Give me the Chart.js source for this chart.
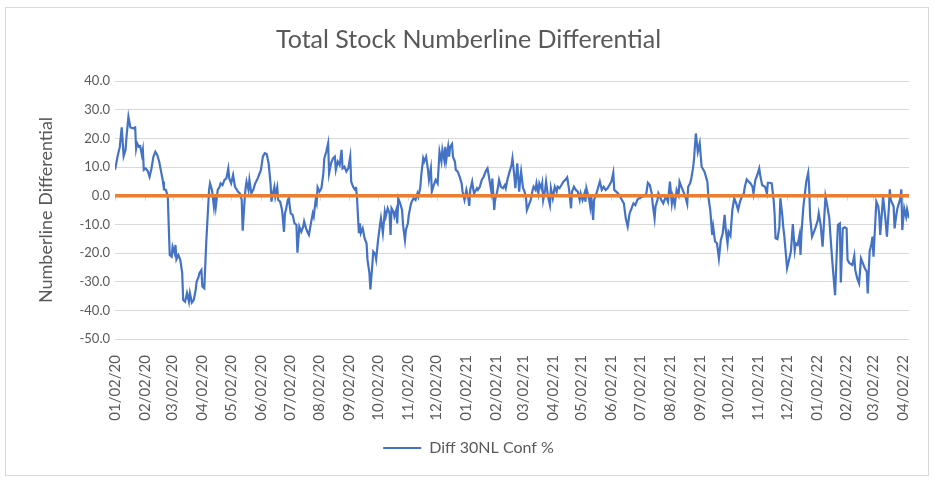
<!DOCTYPE html>
<html>
<head>
<meta charset="utf-8">
<script src="https://cdn.jsdelivr.net/npm/chart.js@4.4.1/dist/chart.umd.min.js"></script>
<style>
  html, body { margin: 0; padding: 0; background: #fff; }
  #wrap { position: relative; width: 938px; height: 482px; }
  #frame { position: absolute; left: 5px; top: 7px; width: 924px; height: 469px; border: 1px solid #d9d9d9; box-sizing: border-box; }
  #chart { position: absolute; left: 0; top: 0; }
</style>
</head>
<body>
<div id="wrap">
  <div id="frame"></div>
  <canvas id="chart" width="938" height="482"></canvas>
</div>
<script>
const chartTitle = "Total Stock Numberline Differential";
const yAxisTitle = "Numberline Differential";
const seriesName = "Diff 30NL Conf %";

// first date of the series (MM/DD/YY); days below count from it
const startLabel = "01/02/20";

const tickLabels = [
  "01/02/20", "02/02/20", "03/02/20", "04/02/20", "05/02/20", "06/02/20", "07/02/20",
  "08/02/20", "09/02/20", "10/02/20", "11/02/20", "12/02/20", "01/02/21", "02/02/21",
  "03/02/21", "04/02/21", "05/02/21", "06/02/21", "07/02/21", "08/02/21", "09/02/21",
  "10/02/21", "11/02/21", "12/02/21", "01/02/22", "02/02/22", "03/02/22", "04/02/22",
];

const days = [
  0, 3, 5, 7, 9, 11, 12, 14, 16, 19, 21, 22, 23, 25, 26, 28, 29, 30, 32, 34,
  36, 38, 40, 42, 44, 46, 48, 50, 51, 53, 55, 56, 57, 59, 60, 62, 63, 64, 66, 68,
  70, 71, 73, 75, 77, 78, 80, 82, 84, 85, 87, 88, 90, 91, 93, 95, 96, 98, 99, 101,
  103, 104, 105, 107, 109, 110, 112, 114, 116, 118, 119, 121, 123, 125, 128, 130, 132, 133, 135, 136,
  137, 139, 140, 142, 144, 146, 148, 150, 152, 154, 156, 158, 160, 162, 163, 164, 166, 167, 169, 170,
  172, 174, 176, 177, 178, 180, 181, 183, 185, 187, 189, 190, 192, 194, 196, 197, 199, 201,
  202, 204, 206, 207, 209, 210, 211, 213, 215, 217, 218, 220, 222, 223, 225, 227, 229, 230, 232, 234,
  236, 237, 239, 241, 243, 245, 246, 248, 250, 251, 252, 254, 255, 256, 258, 260, 262, 263, 265, 266,
  268, 269, 271, 272, 274, 276, 277, 279, 281, 282, 284, 286, 287, 288, 290, 291, 293, 294, 295, 297,
  299, 300, 302, 303, 305, 306, 308, 309, 311, 313, 315, 316, 318, 319, 321, 322, 324, 326, 327, 329,
  330, 332, 334, 336, 337, 338, 340, 341, 343, 344, 345, 347, 348, 349, 351, 352, 354, 355, 357, 359,
  361, 362, 364, 366, 368, 369, 370, 372, 373, 374, 377, 378, 380, 382, 384, 386, 388, 390, 392, 393,
  395, 396, 397, 399,
  400, 402, 404, 406, 407, 409, 411, 413, 414, 416, 417, 419, 421, 422, 423, 425, 426, 428, 429, 431,
  433, 435, 436, 438, 439, 441, 442, 444, 445, 446, 448, 449, 451, 453, 454, 456, 458, 460, 461, 463,
  465, 467, 469, 471, 473, 475, 476, 478, 480, 482, 484, 485, 487, 489, 490, 491, 494, 495, 496, 498,
  499, 501, 503, 505, 507, 509, 511, 513, 515, 517, 519, 520, 522, 524, 526, 528, 530, 532, 534, 536,
  538, 540, 542, 544, 546, 548, 550, 553, 555, 557, 559, 560, 562, 563, 565, 566, 569, 571, 573, 574,
  576, 578, 580, 581, 583, 585, 587, 588, 590, 592, 594, 596, 597, 599,
  600, 602, 603, 605, 607, 609, 611, 614, 617, 618, 620, 622, 623, 625, 627, 629, 631, 633, 635, 636,
  638, 639, 641, 643, 645, 647, 649, 651, 653, 655, 656, 658, 660, 662, 664, 665, 667, 669, 671, 672,
  674, 677, 679, 680, 682, 684, 686, 687, 688, 690, 692, 693, 695, 696, 697, 699, 700, 702, 704, 706,
  708, 709, 711, 713, 714, 715, 717, 719, 720, 722, 723, 724, 726, 728, 730, 732, 733, 735, 737, 738,
  740, 742, 744, 745, 747, 749, 750, 752, 753, 755, 756, 758, 760, 762, 763, 765, 768, 770, 771, 773,
  775, 777, 779, 781, 783, 784, 786, 788, 789, 790, 792, 793, 795, 796, 797, 799, 800, 802, 803, 804,
  806, 807, 808, 811, 812, 814, 815, 818, 819, 820, 822, 824, 825, 827,
];

const diffValues = [
  9, 14.2, 17, 23.8, 13.8, 16, 20.6, 27.5, 23.8, 23.5, 23.8, 16.5, 18.3, 17, 17.7, 14.2, 16, 9, 9.5, 8.7,
  6.6, 9.5, 13.6, 15.3, 14.2, 11.9, 8.4, 4.9, 2.2, 2, -0.3, -10.8, -20.7, -21.3, -17.8, -20, -17.2, -22.2, -20.7, -22.4,
  -27, -36.4, -37, -34, -37, -34, -37.3, -36.4, -33, -30, -28.3, -27, -26, -31.7, -32.3, -16.6, -10.2, 2, 4.3, 2,
  -3.8, -0.3, -3.8, 2, 3.1, 4.3, 3.7, 5.5, 6, 9.5, 6, 4.3, 7.2, 3.1, 1.4, 0.8, -1.5, -12.2, -1.5, 2.6,
  4.9, 2, 5.5, 0.8, 2, 4.3, 5.5, 7.2, 9, 13.6, 14.8, 14.5, 11.3, 4.3, -2.1, 0.2, 3.1, -0.3, 2.9, -1.5,
  -2.1, -5, -12.6, -6.2, -5, -1.5, -0.9, -6.2, -6.7, -9.7, -10.2, -19.9, -10.8, -12.6, -10.8, -9, -11.4, -13.1,
  -13.7, -9.7, -6.2, -7.3, -1.5, -2.7, 2.9, 1.4, 2.6, 7.8, 13, 15.3, 18.3, 7.8, 11.3, 13, 13.6, 9, 11.9, 10.7,
  16, 9.5, 10.1, 8.4, 9.5, 13.6, 4.9, 3.1, 2, 3.1, -0.3, -13.1, -9.7, -13.1, -11.4, -14.9, -16.6, -22.4, -27, -32.7,
  -24.2, -19.5, -20.3, -22.2, -15.5, -10.2, -7.9, -13.1, -5.6, -7.3, -4.4, -6.2, -13.7, -4.4, -5.6, -7.3, -5, -9.7, -0.9, -2.7,
  -5, -10.2, -15.5, -12, -9.7, -6.7, -3.3, -2.1, -0.9, -1.5, 0.8, -0.3, 2.9, 7.2, 13, 11.9, 13.6, 9, 5.5, 9.5,
  1.4, 3.7, 5.5, 4.3, 9.5, 15.3, 11.9, 16, 12.4, 17, 12.4, 17, 13.6, 17, 18, 13.6, 11.9, 9, 8.4, 6.6,
  4.3, 1.4, -1.5, 2, -0.9, -3.6, 2, 4.9, 2.6, 0.8, 2.6, 2, 3.1, 5.5, 6.6, 8.4, 9.5, 5.5, 1.4, 6,
  -5, -0.9, -0.3, 3.1,
  5.5, 3.1, 2.6, 3.7, 2.6, 6, 8.4, 10.7, 13, 6.6, 2.6, 11.3, 1.4, 5.5, 8.4, 2.6, 2, -0.3, -5, -3.3,
  -1.5, 2, 3.1, 2, 4.3, 0.8, 4.3, 2.6, 4.3, -1.5, 2, 4.9, -0.3, -3.3, 2.6, -0.9, 3.1, 1.4, 3.1, 2.6,
  3.7, 4.9, 5.5, 6.4, 2, -4.4, 1.4, 3.1, 2, 1.4, -1.5, 0.8, -1.5, 0.8, -2.1, 2.6, -1.5, -3.8, 0.2, -8.5,
  -1.5, 0.2, 2.6, 4.9, 2, 3.1, 2, 2.6, 3.7, 4.9, 8, 2, 1.4, 0.8, -0.3, -1.5, -2.7, -7.9, -10.8, -6.2,
  -4.4, -2.7, -3.3, -1.5, -0.9, -0.6, -0.3, -0.1, 4.5, 3.7, 0.8, -2.7, -7.9, -3.8, -1.5, 0.8, -1.5, -2.7, -0.9, -0.3,
  -2.1, 4.9, -2.7, -0.3, -3.3, 2, 0.2, 4.9, 3.1, 1.4, -0.3, -2.9, 3.1, 4.3,
  5.5, 9.5, 12.4, 21.7, 15.3, 18.3, 10.1, 8.4, 4.9, -0.3, -5, -13.7, -10.8, -16, -16.6, -21.9, -15.5, -13.1, -6.7, -11.4,
  -16.6, -12.6, -14, -5, -0.9, -2.7, -5, -2.1, -0.3, 0.8, 3.1, 5.7, 4.9, 4.3, 3.1, 0.8, 5.5, 7.2, 9.5, 7.2,
  3.7, 3.1, 0.8, 4.5, 4.5, 4.3, -1.5, -6.2, -14.9, -15.2, -10.8, -0.9, -6.7, -10.8, -13.7, -21.3, -25.3, -22.4, -19.5, -9.9,
  -19, -16.6, -17.2, -13.7, -20.7, -13.1, -3.8, 2, 4.9, 8, 3.1, -7.3, -14.3, -12.6, -10.8, -8.5, -6.2, -10.2, -17.8, -12,
  -0.3, -3.8, -7.9, -13.1, -22.4, -30.6, -34.7, -17.8, -10.2, -9.7, -30.3, -11.4, -11, -11.4, -22.4, -23.6, -24.2, -21, -25.9, -28.8,
  -30.6, -21.9, -23.6, -25.3, -26.5, -34.1, -19.5, -16.6, -14.3, -21.3, -8.5, -2.1, -3.8, -6.7, -13.7, -5, -0.3, -6.7, -10.2, -14.3,
  -4.4, 2.2, -1.5, -3.8, -11.4, -6.2, -4.4, -0.9, 2.2, -12, -4.4, -7.3, -4.8, -7.9,
];

const axisEndDay = 827;
const yMin = -50;
const yMax = 40;
const yStep = 10;
const baselineValue = 0;

const palette = {
  blue: "#4472c4",
  orange: "#ed7d31",
  grid: "#d9d9d9",
  text: "#595959",
  title: "#595959",
};

const fontFamily = "Lato, 'Open Sans', 'Liberation Sans', sans-serif";

function dayOffset(label) {
  const [m, d, y] = label.split("/").map(Number);
  const [m0, d0, y0] = startLabel.split("/").map(Number);
  return Math.round((Date.UTC(2000 + y, m - 1, d) - Date.UTC(2000 + y0, m0 - 1, d0)) / 86400000);
}

const tickDays = tickLabels.map(dayOffset);

// small tick marks on the horizontal axis, which sits at y = 0
const axisTicks = {
  id: "axisTicks",
  beforeDatasetsDraw(chart) {
    const { ctx, scales } = chart;
    const y0 = scales.y.getPixelForValue(baselineValue);
    ctx.save();
    ctx.strokeStyle = palette.grid;
    ctx.lineWidth = 1;
    ctx.beginPath();
    tickDays.forEach((day) => {
      const x = Math.round(scales.x.getPixelForValue(day)) + 0.5;
      ctx.moveTo(x, y0);
      ctx.lineTo(x, y0 + 5);
    });
    ctx.stroke();
    ctx.restore();
  },
};

new Chart(document.getElementById("chart"), {
  type: "line",
  data: {
    datasets: [
      {
        label: "zero",
        data: [{ x: 0, y: baselineValue }, { x: axisEndDay, y: baselineValue }],
        borderColor: palette.orange,
        borderWidth: 3.5,
        pointRadius: 0,
      },
      {
        label: seriesName,
        data: days.map((day, i) => ({ x: day, y: diffValues[i] })),
        borderColor: palette.blue,
        backgroundColor: palette.blue,
        borderWidth: 2.2,
        pointRadius: 0,
        tension: 0,
      },
    ],
  },
  options: {
    responsive: false,
    animation: false,
    layout: {
      padding: { left: 28, right: 29, top: 8, bottom: 16 },
    },
    plugins: {
      title: {
        display: true,
        text: chartTitle,
        color: palette.title,
        font: { family: fontFamily, size: 25, weight: "normal" },
        padding: { top: 17, bottom: 26 },
      },
      legend: {
        position: "bottom",
        labels: {
          filter: (item) => item.text === seriesName,
          color: palette.text,
          font: { family: fontFamily, size: 16 },
          usePointStyle: true,
          pointStyle: "line",
          pointStyleWidth: 38,
          padding: 10,
        },
      },
      tooltip: { enabled: false },
    },
    scales: {
      x: {
        type: "linear",
        min: 0,
        max: axisEndDay,
        grid: { display: false },
        border: { display: false },
        afterBuildTicks(scale) {
          scale.ticks = tickDays.map((value) => ({ value }));
        },
        afterFit(scale) {
          scale.height = 91;
        },
        ticks: {
          autoSkip: false,
          minRotation: 90,
          maxRotation: 90,
          padding: 8,
          color: palette.text,
          font: { family: fontFamily, size: 15 },
          callback: (value, index) => tickLabels[index],
        },
      },
      y: {
        min: yMin,
        max: yMax,
        grid: { color: palette.grid, lineWidth: 1, drawTicks: false },
        border: { display: false },
        afterFit(scale) {
          scale.width = 87;
        },
        ticks: {
          stepSize: yStep,
          padding: 5,
          color: palette.text,
          font: { family: fontFamily, size: 13 },
          callback: (value) => value.toFixed(1),
        },
        title: {
          display: true,
          text: yAxisTitle,
          color: palette.text,
          font: { family: fontFamily, size: 18 },
          padding: { top: 7, bottom: 0 },
        },
      },
    },
  },
  plugins: [axisTicks],
});
</script>
</body>
</html>
